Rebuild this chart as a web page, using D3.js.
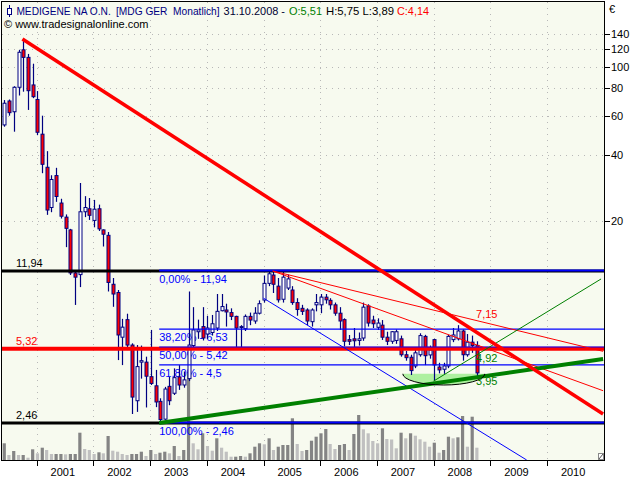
<!DOCTYPE html>
<html><head><meta charset="utf-8">
<script src="https://cdn.jsdelivr.net/npm/d3@7"></script>
<style>
body{margin:0;background:#fff}
svg{display:block}
text{font-family:"Liberation Sans",Arial,sans-serif;font-size:11px}
</style>
</head><body>
<svg id="c" width="640" height="480"></svg>
<script>
// ---------- DATA ----------
const startMonth = "2000-06-01";
const open = [54.5,69.9,62.5,80.6,119,110,82.6,71,49.5,35.1,
  23.1,32.2,24.2,20.9,18.3,11.7,11.5,22.1,22.8,20.2,
  22.8,18.3,17.3,10.4,9.55,6.0,7.2,5.53,3.1,4.63,
  4.63,3.98,3.62,3.08,2.56,3.6,3.35,3.97,3.65,3.9,
  5.5,6.35,6.7,6.2,6.3,6.6,7.9,7.96,7.75,7.45,
  6.65,6.55,7.45,7.1,7.7,8.83,10.5,11.45,10.2,8.9,
  10.0,9.8,8.6,8.1,7.96,7.05,8.4,8.4,9.1,8.8,
  8.4,7.7,7.2,5.85,5.9,5.8,5.95,8.3,7.17,6.65,
  6.8,6.0,5.75,5.8,5.9,5.0,4.87,4.45,5.0,6.05,
  4.99,5.85,4.4,4.3,4.45,5.85,5.9,6.4,5.0,5.7,
  5.51];
const high = [70.6,71,81.5,119,133,114,103,77.5,60,41.5,
  32.3,34.9,25.3,21.5,18.5,11.9,29.8,26.0,25.5,25.0,
  23.8,18.4,17.9,11.1,9.8,7.26,7.66,5.63,5.53,5.5,
  4.9,6.47,4.27,3.18,3.58,3.97,4.34,4.49,4.2,9.65,
  8.2,7.2,8.2,7.5,7.56,9.4,9.4,8.5,8.1,7.5,
  6.8,7.6,7.75,8.2,8.8,11.4,11.94,11.94,11.1,11.9,
  11.5,10.2,9.0,8.4,8.1,8.1,9.4,9.4,9.4,9.0,
  8.6,8.2,7.3,6.14,6.6,6.3,8.6,8.45,7.5,7.3,
  7.17,6.35,6.4,6.5,6.1,5.2,5.0,5.4,6.25,6.15,
  5.5,5.9,4.6,4.6,6.15,6.6,6.8,6.5,6.2,6.1,
  5.75];
const low = [53.5,60,50.8,74,77,63.7,72,49,33,21.4,
  22,24.5,20.6,15.3,11.45,8.39,10.1,20.9,20.3,18.8,
  18.1,15.4,9.65,8.23,4.73,4.49,5.25,2.70,2.76,3.9,
  2.89,3.65,2.9,2.46,2.54,2.96,3.29,3.47,3.55,3.8,
  5.3,5.9,5.8,5.9,6.1,6.4,7.85,6.7,7.17,5.4,
  5.4,6.4,6.8,6.9,7.6,8.6,10.2,9.5,8.6,8.6,
  9.8,8.4,7.5,7.56,6.8,6.7,7.85,7.7,8.5,8.0,
  7.5,6.47,5.45,5.53,5.4,5.5,5.78,6.7,6.6,6.47,
  5.83,5.53,5.6,5.6,4.9,4.7,4.05,4.35,4.9,4.49,
  4.8,3.8,4.12,4.1,4.35,5.7,5.8,4.7,4.9,5.1,
  3.89];
const close = [68.3,61.9,80.6,116,110,77.8,73.1,50.5,36.2,22.5,
  30.9,25.9,21.1,18.6,11.7,11.2,22.1,23.1,21.3,22.7,
  18.5,17.5,10.6,9.4,6.14,6.66,5.53,3.22,4.42,4.7,
  4.0,3.71,3.06,2.55,3.5,3.1,3.94,3.65,3.85,5.53,
  6.47,6.47,5.95,6.6,6.9,7.85,8.25,7.8,7.45,6.6,
  6.7,7.45,7.17,7.7,8.5,10.5,11.6,10.4,8.85,11.2,
  11.0,8.6,8.0,7.85,7.1,7.96,8.6,9.1,8.85,8.4,
  7.7,7.1,5.75,5.75,5.78,5.9,8.2,6.95,6.9,6.95,
  6.0,5.75,6.35,6.35,5.0,4.85,4.24,5.1,6.1,4.95,
  5.25,4.5,4.27,4.45,6.05,6.14,6.4,5.0,5.7,5.5,
  4.14];
const volume = [167,50,90,50,50,23,107,67,123,100,
  60,60,60,57,60,60,273,110,100,60,
  77,67,240,93,83,60,50,60,60,83,
  40,100,60,73,83,67,140,40,100,880,
  167,107,267,140,93,217,123,83,33,33,
  40,33,67,133,167,157,217,100,133,150,
  150,417,160,90,100,193,233,267,310,160,
  110,150,160,100,260,450,307,267,190,167,
  317,210,205,117,273,217,267,243,207,183,
  133,173,73,100,233,217,227,440,133,433,
  123];

const priceTicks = [20,40,60,80,100,120,140];
const yearLabels = ["2001","2002","2003","2004","2005","2006","2007","2008","2009","2010"];

const levelValues = [11.94, 5.32, 2.46];
const levelLabels = ["11,94","5,32","2,46"];
const fibStart = "2003-03-01";
const fibValues = [11.94, 6.53, 5.42, 4.5, 2.46];
const fibLabels = ["0,00% - 11,94","38,20% - 6,53","50,00% - 5,42","61,80% - 4,5","100,00% - 2,46"];

const trendDownStart = ["2000-10-01", 133],  trendDownEnd = ["2010-12-28", 2.70];
const fanStart = ["2005-03-01", 11.94];
const fanAEnd = ["2010-12-28", 5.18], fanBEnd = ["2010-12-28", 3.44];
const channelStart = ["2005-01-01", 9.0], channelEnd = ["2009-08-23", 1.674];
const supportStart = ["2003-03-01", 2.46], supportEnd = ["2010-12-28", 4.78];
const thinGreenStart = ["2008-01-01", 3.8], thinGreenEnd = ["2010-12-15", 10.99];
const bowlDates = ["2007-06-17","2008-11-26"], bowlTop = 4.1, bowlBottom = 3.65;
const valueLabels = [{t:"7,15",d:"2008-10-01",v:7.6,c:"#ff0000"},{t:"4,92",d:"2008-10-01",v:4.85,c:"#008000"},{t:"3,95",d:"2008-10-01",v:3.82,c:"#008000"}];

// ---------- SCALES ----------
const svg = d3.select("#c");
const L = 2, R = 604, T = 2, B = 460;
const D = s => new Date(s + "T00:00:00Z");
const x = d3.scaleUtc().domain([D("2001-01-01"), D("2011-01-01")]).range([36.7, 603.7]);
const y = d3.scaleLog().domain([1.674, 195.6]).range([B, T]);
const yv = d3.scaleLinear().domain([0, 1000]).range([B, B - 100]);

const m0 = D(startMonth);
const months = d3.utcMonth.range(m0, d3.utcMonth.offset(m0, open.length));
const cx = i => x(d3.utcDay.offset(months[i], 5));

svg.append("rect").attr("width",640).attr("height",480).attr("fill","#fff");
svg.append("rect").attr("x",L).attr("y",T).attr("width",R-L).attr("height",B-T).attr("fill","#f7faef");

svg.append("defs").append("clipPath").attr("id","pc").append("rect")
  .attr("x",L).attr("y",T).attr("width",R-L).attr("height",B-T);

const plot = svg.append("g").attr("clip-path","url(#pc)");

// grid
const years = d3.utcYear.range(D("2001-01-01"), D("2011-01-01"));
plot.selectAll(".gh").data(priceTicks).join("line")
  .attr("x1",L).attr("x2",R).attr("y1",d=>Math.round(y(d))+0.5).attr("y2",d=>Math.round(y(d))+0.5)
  .attr("stroke","#b8b8b8").attr("stroke-dasharray","1,5");
plot.selectAll(".gv").data(years).join("line")
  .attr("x1",d=>Math.round(x(d))+0.5).attr("x2",d=>Math.round(x(d))+0.5).attr("y1",T).attr("y2",B)
  .attr("stroke","#b8b8b8").attr("stroke-dasharray","1,5");

// volume
plot.selectAll(".vol").data(volume).join("rect")
  .attr("x",(d,i)=>cx(i)-1.6).attr("width",3.2)
  .attr("y",d=>yv(d)).attr("height",d=>B-yv(d))
  .attr("fill",(d,i)=> (i===0 || d>=volume[i-1]) ? "#848484" : "#c0c0c0");

// bowl fill
const bx1 = x(D(bowlDates[0])), bx2 = x(D(bowlDates[1]));
const byT = y(bowlTop), byB = y(bowlBottom);
const rx = (bx2-bx1)/2, ry = byB-byT;
plot.append("path").attr("d",`M${bx1},${byT} A${rx},${ry} 0 0 0 ${bx2},${byT} Z`).attr("fill","#aef0a0");

// fib labels (under candles)
plot.selectAll(".fl").data(fibValues).join("text")
  .attr("x", x(D(fibStart))).attr("y", d=>y(d)+12)
  .attr("fill","#0000ff").text((d,i)=>fibLabels[i]);

// candles
const cg = plot.append("g");
cg.selectAll(".wick").data(open).join("line")
  .attr("x1",(d,i)=>Math.round(cx(i))+0.5).attr("x2",(d,i)=>Math.round(cx(i))+0.5)
  .attr("y1",(d,i)=>y(high[i])).attr("y2",(d,i)=>y(low[i]))
  .attr("stroke","#000080").attr("stroke-width",1.2);
cg.selectAll(".body").data(open).join("rect")
  .attr("x",(d,i)=>Math.round(cx(i))-1).attr("width",3)
  .attr("y",(d,i)=>y(Math.max(d,close[i])))
  .attr("height",(d,i)=>Math.max(1, Math.abs(y(d)-y(close[i]))))
  .attr("fill",(d,i)=> close[i]>=d ? "#ffffff" : "#ff0000")
  .attr("stroke","#000080").attr("stroke-width",1);

// horizontal levels
const lvlColors = ["#000000","#ff0000","#000000"];
const lvlWidths = [3,4,3];
plot.selectAll(".lv").data(levelValues).join("line")
  .attr("x1",L).attr("x2",R).attr("y1",d=>y(d)).attr("y2",d=>y(d))
  .attr("stroke",(d,i)=>lvlColors[i]).attr("stroke-width",(d,i)=>lvlWidths[i]);

// fib lines
plot.selectAll(".fb").data(fibValues).join("line")
  .attr("x1",x(D(fibStart))).attr("x2",R).attr("y1",d=>y(d)-((d===11.94||d===2.46)?0.5:0)).attr("y2",d=>y(d)-((d===11.94||d===2.46)?0.5:0))
  .attr("stroke","#0000ff").attr("stroke-width",(d)=>(d===11.94||d===2.46)?2:1.2);

// trend lines
const seg = (a,b,color,w) => plot.append("line")
  .attr("x1",x(D(a[0]))).attr("y1",y(a[1])).attr("x2",x(D(b[0]))).attr("y2",y(b[1]))
  .attr("stroke",color).attr("stroke-width",w);
seg(channelStart, channelEnd, "#0000ff", 1);
seg(fanStart, fanAEnd, "#ff0000", 1);
seg(fanStart, fanBEnd, "#ff0000", 1);
seg(thinGreenStart, thinGreenEnd, "#008000", 1);
seg(supportStart, supportEnd, "#008000", 4);
seg(trendDownStart, trendDownEnd, "#ff0000", 3.6);

// bowl arc
plot.append("path").attr("d",`M${bx1},${byT} A${rx},${ry} 0 0 0 ${bx2},${byT}`)
  .attr("fill","none").attr("stroke","#000").attr("stroke-width",1);

// value labels
plot.selectAll(".vl").data(valueLabels).join("text")
  .attr("x",d=>x(D(d.d))).attr("y",d=>y(d.v)+4).attr("fill",d=>d.c).text(d=>d.t);

// level labels
plot.selectAll(".ll").data(levelValues).join("text")
  .attr("x",16).attr("y",d=>y(d)-4)
  .attr("fill",(d,i)=>i===1?"#ff0000":"#000").text((d,i)=>levelLabels[i]);

// header
const hdr = [
  {t:"MEDIGENE NA O.N.", x:16.4, w:94.4, c:"#000080", y:15},
  {t:"[MDG GER  Monatlich]", x:116, w:103.5, c:"#000080", y:15},
  {t:"31.10.2008 -", x:223.6, w:61.4, c:"#000033", y:15},
  {t:"O:5,51", x:289, w:33, c:"#008000", y:15},
  {t:"H:5,75 L:3,89", x:326, w:68, c:"#000000", y:15},
  {t:"C:4,14", x:397, w:32, c:"#ff0000", y:15},
  {t:"\u00a9 www.tradesignalonline.com", x:4, w:144.5, c:"#000000", y:28}
];
svg.selectAll(".hd").data(hdr).join("text")
  .attr("x",d=>d.x).attr("y",d=>d.y).attr("fill",d=>d.c)
  .attr("textLength",d=>d.w).attr("lengthAdjust","spacingAndGlyphs")
  .style("white-space","pre").text(d=>d.t);
// candle icon
svg.append("line").attr("x1",9.5).attr("x2",9.5).attr("y1",5).attr("y2",17).attr("stroke","#000080");
svg.append("rect").attr("x",7.5).attr("y",8.5).attr("width",4).attr("height",6).attr("fill","#fff").attr("stroke","#000080");

// frame
svg.append("rect").attr("x",L-0.5).attr("y",T-0.5).attr("width",R-L+1).attr("height",B-T+1)
  .attr("fill","none").attr("stroke","#000");

// resize glyph
svg.append("rect").attr("x",598.5).attr("y",453.5).attr("width",5).attr("height",6).attr("fill","#fff").attr("stroke","#888");
svg.append("line").attr("x1",599).attr("y1",459).attr("x2",603).attr("y2",454).attr("stroke","#555");

// right axis
const ax = svg.append("g");
ax.selectAll(".rt").data(priceTicks).join("line")
  .attr("x1",R+1).attr("x2",R+6).attr("y1",d=>Math.round(y(d))+0.5).attr("y2",d=>Math.round(y(d))+0.5).attr("stroke","#000");
ax.selectAll(".rl").data(priceTicks).join("text")
  .attr("x",611).attr("y",d=>y(d)+4).attr("fill","#000").text(d=>d);
ax.append("text").attr("x",609).attr("y",13).text("\u20ac");

// bottom axis
ax.selectAll(".bt").data(years).join("line")
  .attr("x1",d=>Math.round(x(d))+0.5).attr("x2",d=>Math.round(x(d))+0.5).attr("y1",B+1).attr("y2",B+6).attr("stroke","#000");
ax.selectAll(".bl").data(yearLabels).join("text")
  .attr("x",(d,i)=>x(D(d+"-07-01"))-2).attr("y",476).attr("text-anchor","middle").text(d=>d);
</script>
</body></html>
